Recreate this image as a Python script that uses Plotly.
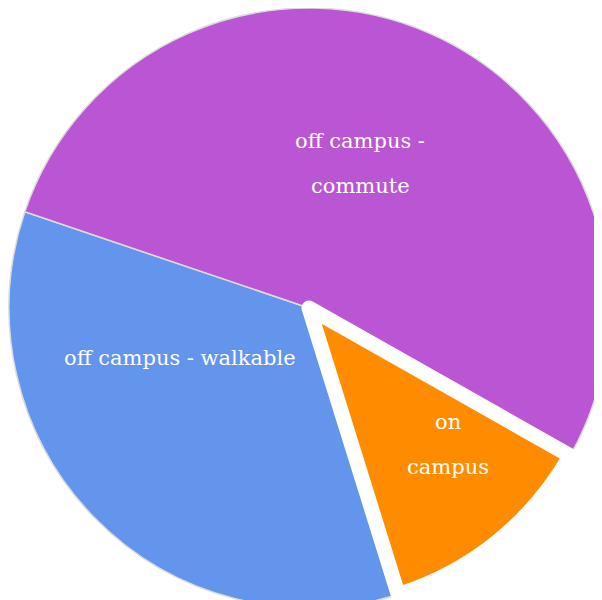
import math
import plotly.graph_objects as go

labels = ["off campus - walkable", "off campus - commute", "on campus"]
values = [35, 53, 12]
label_lines = [["off campus - walkable"], ["off campus -", "commute"], ["on", "campus"]]
colors = ["cornflowerblue", "mediumorchid", "darkorange"]
line_colors = ["#dcdcdc", "#dcdcdc", "white"]
line_widths = [1.5, 1.5, 15]

# label placement style (relative to each slice's mid-angle)
rotation = 162.7
label_r = [0.455, 0.505, 0.70]
label_dangle = [18.7, -0.7, -6.5]
line_gap = 45
W, H = 602, 600
R_px = 295

fig = go.Figure(go.Pie(
    labels=labels,
    values=values,
    textinfo="none",
    sort=False,
    direction="clockwise",
    rotation=rotation,
    marker=dict(colors=colors, line=dict(color=line_colors, width=line_widths)),
    hoverinfo="label+percent",
))

total = sum(values)
cum = 0
annotations = []
for i, v in enumerate(values):
    mid = rotation + 360 * (cum + v / 2) / total + label_dangle[i]
    cum += v
    a = math.radians(mid)
    r = label_r[i] * R_px
    x = 0.5 + r * math.sin(a) / W
    y = 0.5 + r * math.cos(a) / H
    n = len(label_lines[i])
    for j, line in enumerate(label_lines[i]):
        annotations.append(dict(
            text=line, x=x, y=y, xref="paper", yref="paper",
            xanchor="center", yanchor="middle", showarrow=False,
            xshift=-8,
            yshift=((n - 1) / 2 - j) * line_gap + 8,
            font=dict(family="DejaVu Serif", size=21, color="white"),
        ))

fig.update_layout(
    width=W, height=H,
    margin=dict(l=0, r=0, t=0, b=0),
    showlegend=False,
    paper_bgcolor="white",
    annotations=annotations,
)
fig.write_html("out.html")
